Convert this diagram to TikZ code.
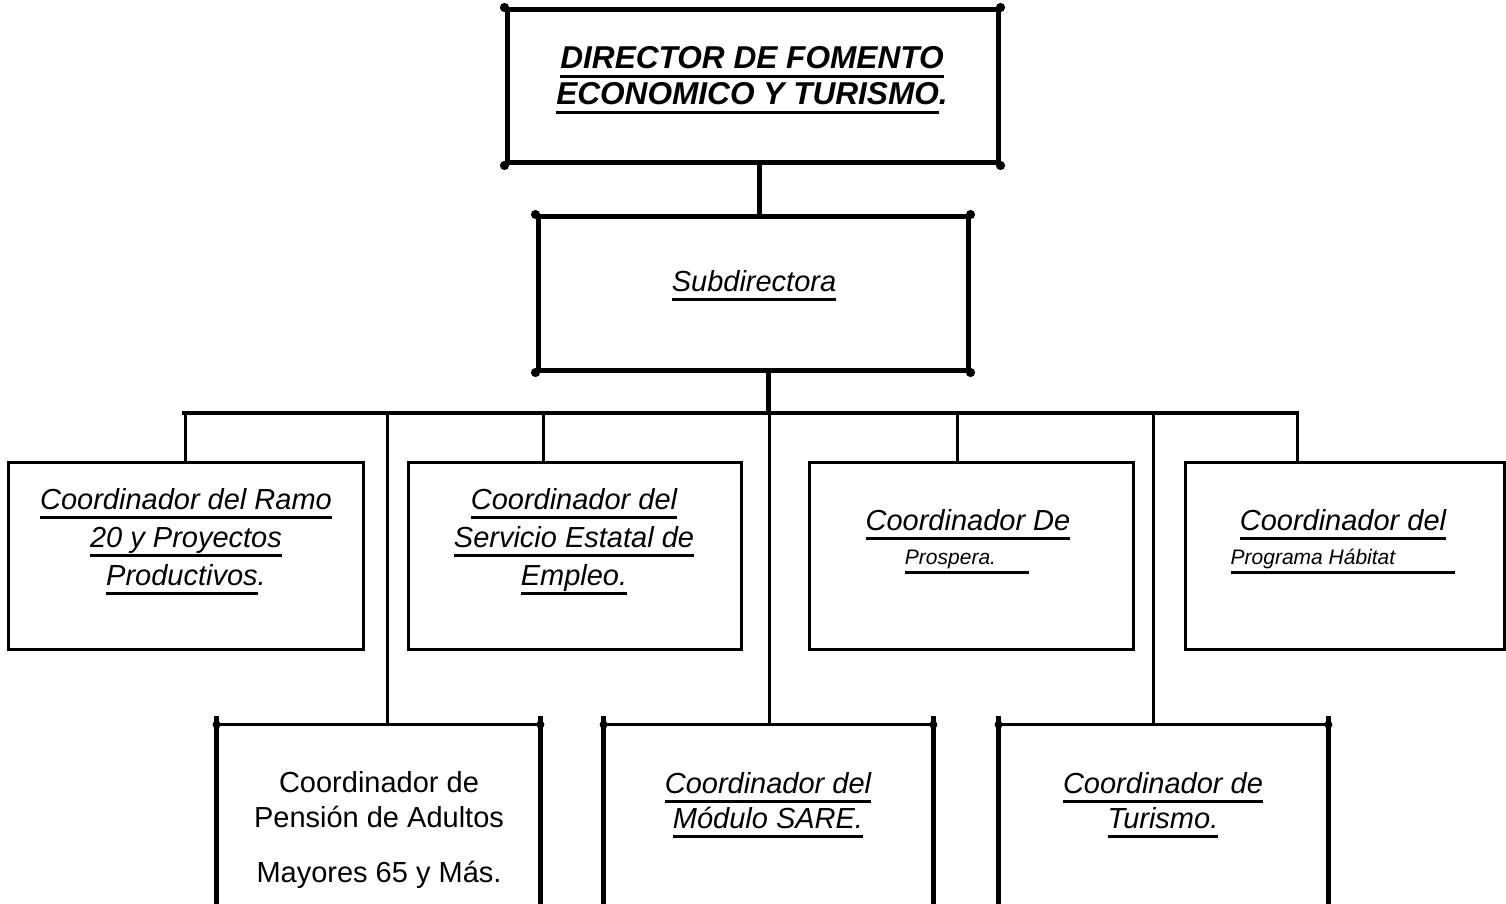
\documentclass[tikz,border=0pt]{standalone}
\usepackage{fontspec}
\setmainfont{Liberation Sans}
\usetikzlibrary{fit}

\newcommand{\uln}[1]{\setbox0\hbox{#1}\rlap{\rule[-4.75pt]{\wd0}{1.5pt}}\box0}

\tikzset{
    headbox/.style={draw, line width=2.5pt, inner sep=0pt},
    unitbox/.style={draw, line width=1.5pt, inner sep=0pt},
    lowbox/.style={inner sep=0pt},
    link/.style={line width=1.5pt},
    trunk/.style={line width=2.5pt},
    busline/.style={line width=2pt},
    sideline/.style={line width=2.4pt},
    boxtext/.style={align=center, inner sep=0pt, font=\itshape\fontsize{14.5}{19}\selectfont},
    smalltext/.style={inner sep=0pt, font=\itshape\fontsize{10.5}{12}\selectfont},
}

\begin{document}
\begin{tikzpicture}[x=0.5pt, y=-0.5pt]
    \useasboundingbox[fill=white] (0,0) rectangle (1506,904);

    % boxes
    \node[headbox, fit={(507,10) (998,163)}] (dir) {};
    \node[headbox, fit={(538,217) (968,370)}] (sub) {};
    \node[unitbox, fit={(8,462) (363,649)}] (c1) {};
    \node[unitbox, fit={(408,462) (741,649)}] (c2) {};
    \node[unitbox, fit={(809,462) (1133,649)}] (c3) {};
    \node[unitbox, fit={(1185,462) (1504,649)}] (c4) {};
    \node[lowbox, fit={(217,725) (540,920)}] (c5) {};
    \node[lowbox, fit={(604,725) (933,920)}] (c6) {};
    \node[lowbox, fit={(999,725) (1328,920)}] (c7) {};

    \foreach \n in {dir,sub} {
        \foreach \a in {north west,north east,south west,south east}
            \fill (\n.\a) circle (2.3pt);
    }
    \foreach \n in {c5,c6,c7} {
        \draw[link] (\n.north west) -- (\n.north east);
        \draw[sideline] ([yshift=4.5pt]\n.north west) -- (\n.south west);
        \draw[sideline] ([yshift=4.5pt]\n.north east) -- (\n.south east);
        \fill (\n.north west) circle (2pt);
        \fill (\n.north east) circle (2pt);
    }

    % connectors
    \coordinate (k0) at ([xshift=3.25pt]dir.south);
    \draw[trunk] (k0) -- (k0 |- sub.north);
    \coordinate (busL) at (182,413);
    \coordinate (busR) at (1299,413);
    \coordinate (j0) at (768,413);
    \draw[trunk] (j0 |- sub.south) -- (j0);
    \draw[busline] (busL) -- (busR);
    \foreach \xx/\n in {185/c1, 543/c2, 957/c3, 1297/c4, 387/c5, 769/c6, 1153/c7} {
        \coordinate (j\n) at (\xx,413);
        \draw[link] (j\n) -- (j\n |- \n.north);
    }

    % texts
    \node[boxtext, font=\bfseries\itshape\fontsize{15.8}{18}\selectfont] (tdir) at (752,80)
        {\uln{DIRECTOR DE FOMENTO}\\\uln{ECONOMICO Y TURISMO}.};
    \node[boxtext, anchor=base] (tsub) at (754,292) {\uln{Subdirectora}};
    \node[boxtext] (t1) at (186,542)
        {\uln{Coordinador del Ramo}\\\uln{20 y Proyectos}\\\uln{Productivos}.};
    \node[boxtext] (t2) at (574,542)
        {\uln{Coordinador del}\\\uln{Servicio Estatal de}\\\uln{Empleo.}};
    \node[boxtext, anchor=base] (t3a) at (968,530) {\uln{Coordinador De}};
    \node[smalltext, anchor=base] (t3b) at (967,564) {\uln{Prospera.\hspace{16.5pt}}};
    \node[boxtext, anchor=base] (t4a) at (1343,530) {\uln{Coordinador del}};
    \node[smalltext, anchor=base] (t4b) at (1343,564) {\uln{Programa Hábitat\hspace{30pt}}};
    \node[boxtext, font=\fontsize{14.5}{17.5}\selectfont] (t5) at (379,830)
        {Coordinador de\\Pensión de Adultos\\[10pt]Mayores 65 y Más.};
    \node[boxtext, font=\itshape\fontsize{14.5}{17.5}\selectfont] (t6) at (768,805)
        {\uln{Coordinador del}\\\uln{Módulo SARE.}};
    \node[boxtext, font=\itshape\fontsize{14.5}{17.5}\selectfont] (t7) at (1163,805)
        {\uln{Coordinador de}\\\uln{Turismo.}};
\end{tikzpicture}
\end{document}
